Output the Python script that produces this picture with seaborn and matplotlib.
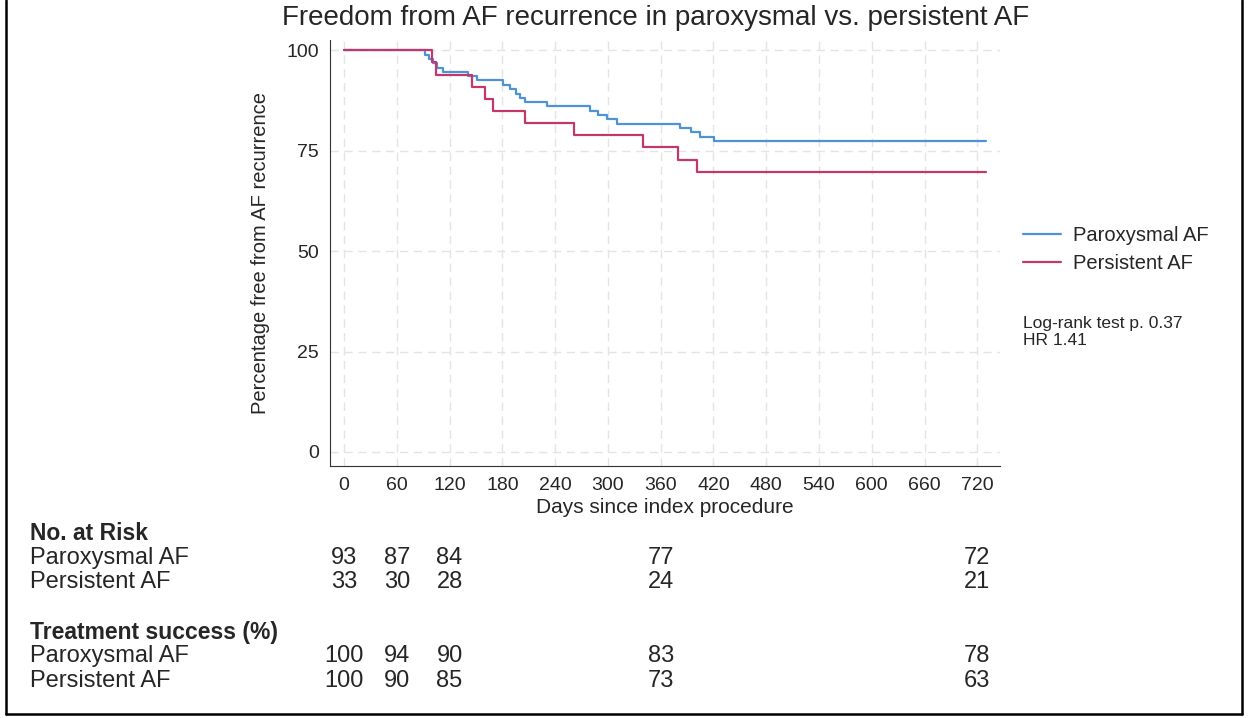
import pandas as pd
import matplotlib.pyplot as plt
import matplotlib.transforms as mtransforms
from matplotlib.lines import Line2D
import seaborn as sns

# Kaplan-Meier step points (day, % free from AF recurrence)
parox_days = [0, 92, 97, 101, 106, 112, 141, 151, 181, 189, 195, 200, 206, 231,
              280, 289, 299, 310, 382, 394, 405, 421, 730]
parox_pct = [100, 98.9, 97.8, 96.8, 95.7, 94.6, 93.5, 92.5, 91.4, 90.3, 89.2, 88.2,
             87.1, 86.0, 84.9, 83.9, 82.8, 81.7, 80.6, 79.6, 78.5, 77.4, 77.4]
pers_days = [0, 100, 105, 145, 160, 169, 206, 261, 340, 380, 401, 730]
pers_pct = [100, 97.0, 93.9, 90.9, 87.9, 84.8, 81.8, 78.8, 75.8, 72.7, 69.7, 69.7]

groups = ["Paroxysmal AF", "Persistent AF"]
colors = ["#4f93d6", "#c2386c"]

# table under the plot
table_days = [0, 60, 120, 360, 720]
risk_parox = [93, 87, 84, 77, 72]
risk_pers = [33, 30, 28, 24, 21]
success_parox = [100, 94, 90, 83, 78]
success_pers = [100, 90, 85, 73, 63]

x_ticks = list(range(0, 721, 60))
y_ticks = [0, 25, 50, 75, 100]

df = pd.concat([
    pd.DataFrame({"day": parox_days, "pct": parox_pct, "group": groups[0]}),
    pd.DataFrame({"day": pers_days, "pct": pers_pct, "group": groups[1]}),
])

sns.set_style("white")
plt.rcParams["font.family"] = ["Liberation Sans", "DejaVu Sans"]

fig = plt.figure(figsize=(12.48, 7.18), dpi=100)
ax = fig.add_axes([0.2644, 0.351, 0.537, 0.593])

sns.lineplot(data=df, x="day", y="pct", hue="group", palette=dict(zip(groups, colors)),
             drawstyle="steps-post", estimator=None, linewidth=1.6, ax=ax, legend=False)

ax.set_xlim(-16, 746)
ax.set_ylim(-3.5, 102.5)
ax.set_xticks(x_ticks)
ax.set_yticks(y_ticks)
ax.tick_params(axis="both", direction="out", length=5, width=1, color="#333333",
               labelsize=14, pad=3)
ax.grid(True, linestyle=(0, (6, 4)), color="#e4e4e4", linewidth=1)
sns.despine(ax=ax)
ax.spines["left"].set_color("#333333")
ax.spines["bottom"].set_color("#333333")
ax.set_xlabel("Days since index procedure", fontsize=15, labelpad=3)
ax.set_ylabel("Percentage free from AF recurrence", fontsize=14.5, labelpad=12)

fig.text(0.525, 0.975, "Freedom from AF recurrence in paroxysmal vs. persistent AF",
         ha="center", va="center", fontsize=20)

handles = [Line2D([], [], color=c, linewidth=1.6) for c in colors]
fig.legend(handles, groups, loc="center left", bbox_to_anchor=(0.805, 0.652),
           frameon=False, fontsize=14.5, handlelength=1.9, handletextpad=0.6,
           labelspacing=0.45)
fig.text(0.82, 0.5376, "Log-rank test p. 0.37\nHR 1.41", ha="left", va="center",
         fontsize=12.5, linespacing=1.1)

# numbers-at-risk / success table
trans = mtransforms.blended_transform_factory(ax.transData, fig.transFigure)
rows = [
    ("No. at Risk", None, 533, True),
    ("Paroxysmal AF", risk_parox, 558, False),
    ("Persistent AF", risk_pers, 582, False),
    ("Treatment success (%)", None, 632, True),
    ("Paroxysmal AF", success_parox, 656, False),
    ("Persistent AF", success_pers, 681, False),
]
for label, vals, ypx, bold in rows:
    yf = 1 - ypx / 718
    fig.text(30 / 1248, yf, label, ha="left", va="center",
             fontsize=16.5 if bold else 17, fontweight="bold" if bold else "normal")
    if vals is not None:
        for d, v in zip(table_days, vals):
            ax.text(d, yf, str(v), transform=trans, ha="center", va="center", fontsize=17)

# outer frame
for xs, ys in [([6, 6], [0, 714]), ([1242, 1242], [0, 714]), ([6, 1242], [714, 714])]:
    fig.add_artist(Line2D([x / 1248 for x in xs], [1 - y / 718 for y in ys],
                          color="black", linewidth=1.8))

fig.savefig("out.png", dpi=100)
